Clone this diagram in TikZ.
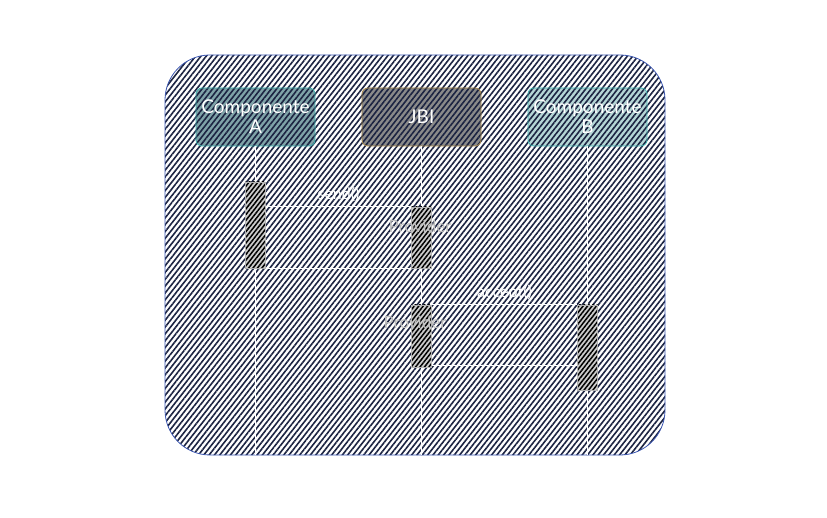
\documentclass[tikz,border=0pt]{standalone}
\usepackage{fontspec}
\setsansfont{Lato}
\usetikzlibrary{patterns.meta,positioning}
\definecolor{hatch}{HTML}{1C2442}
\definecolor{frameblue}{HTML}{3A55B0}
\definecolor{tealborder}{HTML}{3FB3B0}
\definecolor{brownborder}{HTML}{A8884A}
\definecolor{groundA}{HTML}{7FA3A8}
\definecolor{groundJ}{HTML}{8A8A8A}
\definecolor{groundB}{HTML}{B5D6D6}
\tikzset{
    % hatched fill: ground colour first, then lines and border
    hatched/.style 2 args={
           preaction={fill=#1},
           pattern={Lines[angle=52,distance=4.2pt,line width=1.6pt]},
           pattern color=hatch,
           draw=#2, thick,
           },
    % participant boxes
    part/.style={
           rectangle,
           rounded corners=6pt,
           minimum width=119pt,
           minimum height=58pt,
           align=center,
           font=\sffamily\fontsize{19}{20}\selectfont,
           text=white,
           },
    % activation bars
    bar/.style={
           rectangle,
           minimum width=20pt,
           preaction={fill=gray!40},
           pattern={Lines[angle=52,distance=3.5pt,line width=1.5pt]},
           pattern color=black,
           draw=gray!60, thick,
           },
    % lifelines and messages
    life/.style={draw=white, line width=1.2pt},
    msg/.style={draw=white, line width=1pt},
    lbl/.style={font=\sffamily\fontsize{16}{16}\selectfont, text=white},
    role/.style={font=\sffamily\fontsize{17}{17}\selectfont, text=gray!50},
}
\begin{document}
\begin{tikzpicture}[x=1pt,y=-1pt]
\useasboundingbox (0,0) rectangle (827,518);
% frame
\path[rounded corners=45pt, hatched={white}{frameblue}] (165,55) rectangle (665,455);
% participants
\node[part, hatched={groundA}{tealborder}] (compA) at (255.5,117) {Componente\\A};
\node[part, hatched={groundJ}{brownborder}] (jbi) at (421.5,117) {JBI};
\node[part, hatched={groundB}{tealborder}] (compB) at (587.5,117) {Componente\\B};
% lifeline ends
\coordinate (endA) at (255.5,455);
\coordinate (endJ) at (421.5,455);
\coordinate (endB) at (587.5,455);
\draw[life] (compA) -- (endA);
\draw[life] (jbi) -- (endJ);
\draw[life] (compB) -- (endB);
% activation bars
\node[bar, minimum height=86pt] (barA) at (255.5,225) {};
\node[bar, minimum height=61pt] (barJ1) at (421.5,237.5) {};
\node[bar, minimum height=62pt] (barJ2) at (421.5,336) {};
\node[bar, minimum height=85pt] (barB) at (587.5,347.5) {};
% messages
\draw[msg] (barA.east |- 0,207) -- (barJ1.west |- 0,207)
    node[lbl, midway, above=1pt] (send) {send()};
\draw[msg] (barJ1.south west) -- (barA.east |- barJ1.south west);
\draw[msg] (barJ2.north east) -- (barB.west |- barJ2.north east)
    node[lbl, midway, above=1pt] (accept) {accept()};
\draw[msg] (barB.west |- 0,366) -- (barJ2.east |- 0,366);
% roles
\node[role] (prov1) at (420,226) {Provider};
\node[role] (prov2) at (415,322) {Provider};
\end{tikzpicture}
\end{document}
